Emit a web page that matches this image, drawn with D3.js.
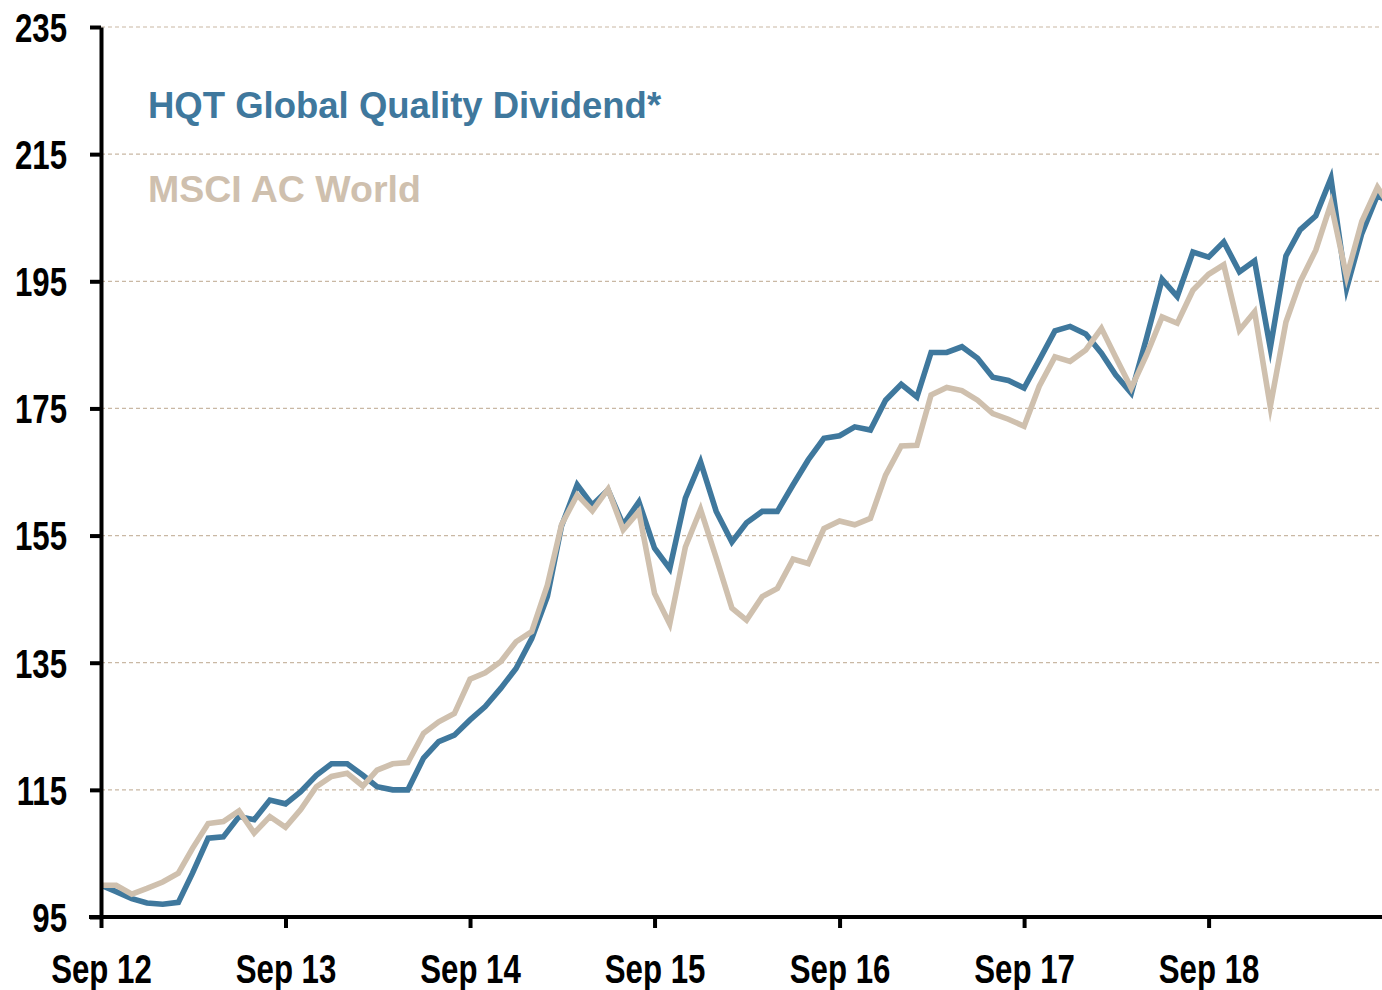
<!DOCTYPE html>
<html>
<head>
<meta charset="utf-8">
<script src="https://cdn.jsdelivr.net/npm/d3@7"></script>
<style>
  html, body { margin: 0; padding: 0; background: #ffffff; }
  svg { display: block; }
</style>
</head>
<body>
<svg id="chart" width="1382" height="990"></svg>
<script>
// ---- data (monthly, starting Sep 2012, rebased to 100) ----
const startMonth = "2012-09-01";
const seriesNames = ["HQT Global Quality Dividend*", "MSCI AC World"];
const hqtValues = [
  100.0, 99.0, 97.9, 97.2, 97.0, 97.3, 101.9, 107.4, 107.6, 110.8, 110.3, 113.4,
  112.8, 114.7, 117.3, 119.1, 119.1, 117.3, 115.5, 115.0, 115.0, 120.0, 122.6, 123.6,
  126.0, 128.1, 131.0, 134.1, 138.8, 145.4, 156.5, 163.0, 159.8, 162.2, 156.7, 160.3,
  153.0, 149.8, 160.9, 166.6, 158.8, 154.0, 157.0, 158.8, 158.8, 163.0, 166.9, 170.3,
  170.7, 172.1, 171.6, 176.3, 178.8, 176.8, 183.8, 183.8, 184.7, 182.9, 179.9, 179.4,
  178.2, 182.6, 187.2, 187.9, 186.7, 183.7, 180.3, 177.4, 186.0, 195.3, 192.6, 199.6,
  198.8, 201.2, 196.5, 198.2, 184.5, 199.0, 203.1, 205.3, 211.2, 193.9, 202.5, 208.6,
  206.8
];
const msciValues = [
  100.0, 100.0, 98.6, 99.5, 100.5, 101.9, 105.8, 109.7, 110.0, 111.7, 108.2, 110.8,
  109.1, 111.9, 115.5, 117.1, 117.6, 115.6, 118.1, 119.1, 119.3, 123.9, 125.7, 127.0,
  132.4, 133.4, 135.2, 138.3, 139.9, 147.2, 156.7, 161.4, 158.9, 162.3, 155.9, 158.8,
  145.9, 141.1, 153.2, 159.1, 151.5, 143.6, 141.7, 145.4, 146.7, 151.3, 150.6, 156.1,
  157.3, 156.7, 157.7, 164.5, 169.1, 169.2, 177.1, 178.3, 177.8, 176.3, 174.2, 173.3,
  172.2, 178.5, 183.1, 182.4, 184.2, 187.6, 183.1, 178.2, 183.4, 189.4, 188.4, 193.6,
  196.1, 197.6, 187.3, 190.2, 175.3, 188.6, 194.9, 199.9, 207.2, 195.7, 204.4, 209.8,
  206.0
];
const xTickDates = ["2012-09-01","2013-09-01","2014-09-01","2015-09-01","2016-09-01","2017-09-01","2018-09-01"];
const xTickLabels = ["Sep 12","Sep 13","Sep 14","Sep 15","Sep 16","Sep 17","Sep 18"];
const yTicks = [95, 115, 135, 155, 175, 195, 215, 235];
const xDomainEnd = "2019-08-10";

(function () {
// ---- layout ----
const W = 1382, H = 990;
const mLeft = 101, mRight = 1382, mTop = 27, mBottom = 917;
const blue = "#3f789d", sand = "#cfc0ae", grid = "#c9b8a4";
const tickFont = "'Liberation Sans', Arial, Helvetica, sans-serif";
const legendFont = "'Liberation Sans', Arial, Helvetica, sans-serif";
const condense = 0.78;

const parse = d3.utcParse("%Y-%m-%d");
const start = parse(startMonth);
const dates = hqtValues.map((_, i) => d3.utcMonth.offset(start, i));

const x = d3.scaleUtc().domain([start, parse(xDomainEnd)]).range([mLeft, mRight]);
const y = d3.scaleLinear().domain([95, 235]).range([mBottom, mTop]);

const svg = d3.select("#chart");

svg.append("defs").append("clipPath").attr("id", "plotclip")
  .append("rect").attr("x", mLeft).attr("y", 0).attr("width", mRight - mLeft).attr("height", H);

// gridlines
svg.append("g").selectAll("line")
  .data(yTicks.filter(v => v !== 95))
  .join("line")
  .attr("x1", mLeft).attr("x2", mRight)
  .attr("y1", d => y(d)).attr("y2", d => y(d))
  .attr("stroke", grid).attr("stroke-width", 1.2)
  .attr("stroke-dasharray", "4,3");

// lines
const line = d3.line().x((d, i) => x(dates[i])).y(d => y(d));
const lines = svg.append("g").attr("clip-path", "url(#plotclip)");
lines.append("path").datum(hqtValues)
  .attr("d", line).attr("fill", "none").attr("stroke", blue)
  .attr("stroke-width", 5.6).attr("stroke-linejoin", "miter").attr("stroke-miterlimit", 10);
lines.append("path").datum(msciValues)
  .attr("d", line).attr("fill", "none").attr("stroke", sand)
  .attr("stroke-width", 5.6).attr("stroke-linejoin", "miter").attr("stroke-miterlimit", 10);

function condenseText(sel) {
  sel.each(function () {
    const w = this.getComputedTextLength();
    d3.select(this).attr("textLength", w * condense).attr("lengthAdjust", "spacingAndGlyphs");
  });
}

// y axis
const yAxis = d3.axisLeft(y).tickValues(yTicks).tickSize(11).tickSizeOuter(0).tickPadding(23)
  .tickFormat(d3.format("d"));
const gy = svg.append("g").attr("transform", `translate(${mLeft},0)`).call(yAxis);
gy.select(".domain").attr("stroke", "#000").attr("stroke-width", 4);
gy.selectAll(".tick line").attr("stroke", "#000").attr("stroke-width", 4);
gy.selectAll(".tick text")
  .attr("fill", "#000")
  .style("font-family", tickFont).style("font-weight", "bold").style("font-size", "40px")
  .attr("dy", "0.36em")
  .call(condenseText);

// x axis
const tickDates = xTickDates.map(parse);
const xAxis = d3.axisBottom(x).tickValues(tickDates).tickSize(11).tickSizeOuter(0).tickPadding(27)
  .tickFormat((d, i) => xTickLabels[i]);
const gx = svg.append("g").attr("transform", `translate(0,${mBottom})`).call(xAxis);
gx.select(".domain").attr("stroke", "#000").attr("stroke-width", 4)
  .attr("d", `M${mLeft - 12},0H${mRight}`);
gx.selectAll(".tick line").attr("stroke", "#000").attr("stroke-width", 4);
gx.selectAll(".tick text")
  .attr("fill", "#000")
  .style("font-family", tickFont).style("font-weight", "bold").style("font-size", "40px")
  .call(condenseText);

// legend
svg.append("text").attr("x", 148).attr("y", 118)
  .attr("fill", blue)
  .style("font-family", legendFont).style("font-weight", "bold").style("font-size", "36.5px")
  .text(seriesNames[0]);
svg.append("text").attr("x", 148).attr("y", 202)
  .attr("fill", sand)
  .style("font-family", legendFont).style("font-weight", "bold").style("font-size", "37.5px")
  .text(seriesNames[1]);
})();
</script>
</body>
</html>
